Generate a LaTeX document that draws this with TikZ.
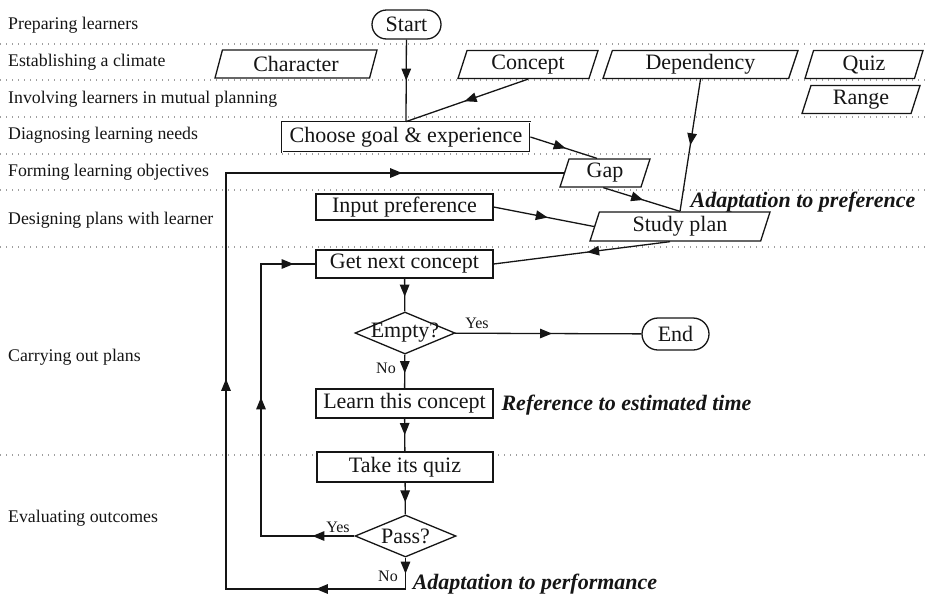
\documentclass[tikz,border=0pt]{standalone}
\usepackage{fontspec}
\setmainfont{Liberation Serif}
\usetikzlibrary{shapes.geometric,shapes.misc,decorations.markings,arrows.meta}
\definecolor{ink}{HTML}{151515}
\newcommand\myNodeFont{\fontsize{22}{26}\selectfont}
\newcommand\myLaneFont{\fontsize{17.8}{21}\selectfont}
\newcommand\myYnFont{\fontsize{16}{19}\selectfont}
\newcommand\myNoteFont{\fontsize{22}{26}\selectfont\bfseries\itshape}
\tikzset{
  base/.style={draw=ink, line width=1.3pt, fill=white, font=\myNodeFont, inner sep=1pt, text=ink},
  box/.style={base, rectangle, minimum height=28pt},
  para/.style={base, trapezium, trapezium left angle=67, trapezium right angle=113,
    trapezium stretches body, minimum height=28pt},
  term/.style={base, rounded rectangle, minimum height=30pt},
  dia/.style={base, diamond, minimum width=100pt, minimum height=42pt, inner sep=0pt},
  lane/.style={font=\myLaneFont, anchor=west, text=ink, inner sep=0pt},
  sep/.style={draw=gray!75, line width=1.3pt, dash pattern=on 1.3pt off 4.7pt},
  conn/.style={draw=ink, line width=1.3pt},
  arr/.style={postaction={decorate, decoration={markings,
      mark=at position #1 with {\arrow{Triangle[length=12pt,width=9.5pt]}}}}},
  yn/.style={font=\myYnFont, text=ink, inner sep=0pt},
  note/.style={font=\myNoteFont, text=ink, inner sep=0pt},
}
\begin{document}
\begin{tikzpicture}[x=1pt,y=-1pt]
\useasboundingbox (0,0) rectangle (925,598);
% lane separators
\foreach \yy in {44,80,117,154,190,247,455}
  \draw[sep] (0,\yy) -- (925,\yy);
% lane labels
\node[lane] (l1) at (8,25) {Preparing learners};
\node[lane] (l2) at (8,62) {Establishing a climate};
\node[lane] (l3) at (8,99) {Involving learners in mutual planning};
\node[lane] (l4) at (8,135) {Diagnosing learning needs};
\node[lane] (l5) at (8,172) {Forming learning objectives};
\node[lane] (l6) at (8,220) {Designing plans with learner};
\node[lane] (l7) at (8,357) {Carrying out plans};
\node[lane] (l8) at (8,518) {Evaluating outcomes};
% nodes
\node[term, minimum width=71pt, minimum height=29pt] (start) at (406.5,24.5) {Start};
\node[para, minimum width=162pt] (character) at (296,64) {Character};
\node[para, minimum width=140pt] (concept) at (528,64.5) {Concept};
\node[para, minimum width=195pt] (dependency) at (700.5,64.5) {Dependency};
\node[para, minimum width=118pt] (quizdata) at (864,64.5) {Quiz};
\node[para, minimum width=118pt] (range) at (861,99.5) {Range};
\node[box, minimum width=248pt, minimum height=30pt, double, double distance=0.9pt, line width=0.8pt] (choose) at (406,137) {Choose goal \& experience};
\node[para, minimum width=90pt] (gap) at (605,173) {Gap};
\node[box, minimum width=177pt, minimum height=26pt] (input) at (404.5,207) {Input preference};
\node[para, minimum width=180pt, minimum height=29pt] (study) at (680,226.5) {Study plan};
\node[note] (adpref) at (803,202) {Adaptation to preference};
\node[box, minimum width=177pt] (getnext) at (404.5,264) {Get next concept};
\node[dia, label={[font=\myNodeFont, text=ink]center:Empty?}] (empty) at (405,333) {};
\node[term, minimum width=69pt, minimum height=32pt] (stop) at (675.5,334) {End};
\node[box, minimum width=177pt, minimum height=29pt] (learn) at (404.5,403.5) {Learn this concept};
\node[note] (reftime) at (626.5,405) {Reference to estimated time};
\node[box, minimum width=176pt, minimum height=30pt] (takequiz) at (405,467) {Take its quiz};
\node[dia, minimum width=101pt, label={[font=\myNodeFont, text=ink]center:Pass?}] (pass) at (405.5,536) {};
\node[note] (adperf) at (535,584) {Adaptation to performance};
% yes/no labels
\node[yn] (y1) at (477,323) {Yes};
\node[yn] (n1) at (386,368) {No};
\node[yn] (y2) at (338,527) {Yes};
\node[yn] (n2) at (388,576) {No};
% helper coordinates
\coordinate (j) at (choose.north);
\coordinate (xin) at (261,0);
\coordinate (bl) at (226,589);
% connectors
\draw[conn, arr=0.5] (start) -- (j);
\draw[conn, arr=0.52] (concept.south) -- (j);
\draw[conn, arr=0.53] (choose.east) -- ([xshift=-8pt]gap.north);
\draw[conn, arr=0.5] (dependency.south) -- (study.north);
\draw[conn, arr=0.52] ([xshift=3pt]gap.bottom side) -- (study.north);
\draw[conn, arr=0.54] (input.east) -- (study.left side);
\draw[conn, arr=0.47] ([xshift=-10pt]study.south) -- (getnext.east);
\draw[conn, arr=0.55] (getnext) -- (empty);
\draw[conn, arr=0.55] (empty) -- (learn);
\draw[conn, arr=0.52] (empty) -- (stop);
\draw[conn, arr=0.5] (learn) -- (takequiz);
\draw[conn, arr=0.62] (takequiz) -- (pass);
\draw[conn, arr=42pt, arr=232pt, arr=398pt] (pass.west) -- (pass.west -| xin) |- (getnext.west);
\draw[conn, arr=16pt, arr=121pt, arr=421pt, arr=803pt] (pass.south) |- (bl) |- (gap.left side);
\end{tikzpicture}
\end{document}
